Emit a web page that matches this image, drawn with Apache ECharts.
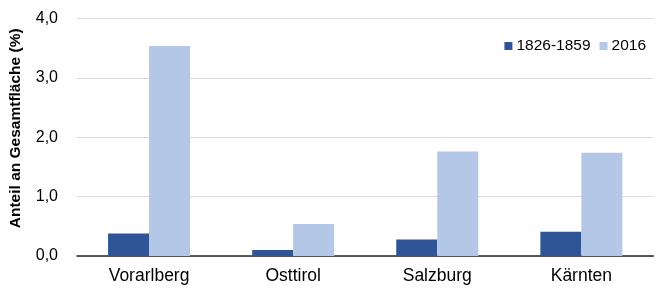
<!DOCTYPE html>
<html><head><meta charset="utf-8">
<script src="https://cdn.jsdelivr.net/npm/echarts@6/dist/echarts.min.js"></script>
<style>html,body{margin:0;padding:0;background:#fff}#c{width:656px;height:291px}</style>
</head><body><div id="c"></div>
<script>
const categories = ['Vorarlberg', 'Osttirol', 'Salzburg', 'Kärnten'];
const seriesNames = ['1826-1859', '2016'];
const values1826 = [0.38, 0.10, 0.28, 0.41];
const values2016 = [3.54, 0.54, 1.76, 1.74];
const yTicks = [0, 1, 2, 3, 4];

const font = 'Liberation Sans, Arial, sans-serif';
const chart = echarts.init(document.getElementById('c'), null, {renderer: 'canvas'});
chart.setOption({
  animation: false,
  textStyle: {fontFamily: font},
  grid: {left: 76, right: 2.6, top: 18.6, bottom: 35, containLabel: false},
  legend: {
    top: 33, right: 5, itemWidth: 8, itemHeight: 8, itemGap: 9,
    icon: 'rect',
    textStyle: {fontFamily: font, fontSize: 15.5, color: '#000', padding: [0,0,0,-1]},
    data: seriesNames
  },
  xAxis: {
    type: 'category', data: categories,
    axisLine: {lineStyle: {color: '#262626', width: 1.5}},
    axisTick: {show: false},
    axisLabel: {fontFamily: font, fontSize: 17.5, color: '#000', margin: 11}
  },
  yAxis: {
    type: 'value', min: yTicks[0], max: yTicks[yTicks.length-1], interval: 1,
    name: 'Anteil an Gesamtfläche (%)', nameLocation: 'middle', nameGap: 53,
    nameTextStyle: {fontFamily: font, fontSize: 15.5, fontWeight: 'bold', color: '#000',
      padding: [0, 0, 0, 18]},
    axisLabel: {fontFamily: font, fontSize: 16, color: '#000', margin: 19,
      formatter: v => v.toFixed(1).replace('.', ',')},
    splitLine: {lineStyle: {color: '#DCDAD8', width: 1}},
    axisLine: {show: false}, axisTick: {show: false}
  },
  series: [
    {name: seriesNames[0], type: 'bar', data: values1826, barWidth: 41, barGap: '0%',
     itemStyle: {color: '#2F5597'}},
    {name: seriesNames[1], type: 'bar', data: values2016, barWidth: 41, barGap: '0%',
     itemStyle: {color: '#B4C7E7'}}
  ]
});
</script></body></html>
